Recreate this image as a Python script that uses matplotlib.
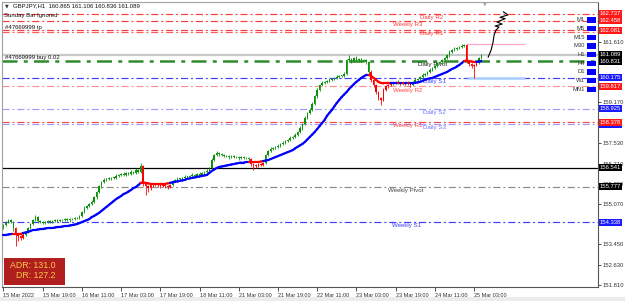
"""
GBPJPY H1 chart with pivot levels, coloured MA and order lines (MT4 style).
Output: out.png
"""
import matplotlib

matplotlib.use("Agg")
import matplotlib.pyplot as plt
import numpy as np
from matplotlib.collections import LineCollection
from matplotlib.patches import Rectangle
from matplotlib.transforms import blended_transform_factory

plt.rcParams["font.family"] = ["Liberation Sans", "DejaVu Sans"]

# --- data ---

first_open = 154.15
closes = [
    154.23, 154.35, 154.43, 154.35, 154.11, 153.83, 153.79, 153.71, 153.83, 153.95,
    154.11, 154.27, 154.43, 154.55, 154.39, 154.35, 154.31, 154.35, 154.39, 154.35,
    154.39, 154.43, 154.39, 154.43, 154.43, 154.47, 154.43, 154.47, 154.47, 154.51,
    154.51, 154.60, 154.76, 154.92, 155.00, 155.08, 155.16, 155.36, 155.56, 155.80,
    155.97, 156.05, 156.09, 156.09, 156.13, 156.13, 156.21, 156.25, 156.29, 156.25,
    156.33, 156.29, 156.37, 156.33, 156.45, 156.37, 156.61, 155.89, 155.80, 155.72,
    155.84, 155.84, 155.84, 155.86, 155.80, 155.84, 155.80, 155.76, 155.84, 156.01,
    156.05, 156.09, 156.09, 156.13, 156.17, 156.17, 156.21, 156.25, 156.21, 156.29,
    156.25, 156.33, 156.37, 156.41, 156.53, 156.85, 157.05, 157.13, 157.09, 157.05,
    157.01, 157.01, 156.97, 157.01, 156.97, 156.97, 156.93, 156.97, 156.93, 156.93,
    156.89, 156.69, 156.65, 156.61, 156.69, 156.65, 156.73, 157.05, 157.21, 157.30,
    157.34, 157.38, 157.42, 157.50, 157.54, 157.62, 157.66, 157.74, 157.78, 157.86,
    157.98, 158.14, 158.30, 158.54, 158.75, 158.87, 159.11, 159.43, 159.67, 159.87,
    159.96, 160.00, 160.04, 160.08, 160.12, 160.16, 160.20, 160.24, 160.24, 160.32,
    160.88, 160.92, 160.84, 160.96, 160.88, 160.92, 160.84, 160.88, 160.80, 160.40,
    160.08, 159.87, 159.59, 159.35, 159.27, 159.67, 159.83, 159.87, 159.92, 159.96,
    160.00, 159.96, 159.92, 159.96, 159.92, 159.96, 159.87, 160.00, 160.08, 160.12,
    160.20, 160.28, 160.32, 160.40, 160.48, 160.56, 160.64, 160.76, 160.80, 160.88,
    160.96, 161.08, 161.20, 161.29, 161.33, 161.37, 161.41, 161.45, 161.49, 160.84,
    160.72, 160.64, 160.68, 160.76, 160.96, 161.089,
]
upper_wick = [
    0.05, 0.06, 0.04, 0.05, 0.03, 0.04, 0.05, 0.04, 0.06, 0.04,
    0.03, 0.05, 0.04, 0.08, 0.05, 0.04, 0.06, 0.04, 0.05, 0.03,
    0.05, 0.04, 0.06, 0.04, 0.05, 0.04, 0.05, 0.03, 0.05, 0.04,
    0.06, 0.04, 0.05, 0.06, 0.04, 0.05, 0.07, 0.05, 0.06, 0.04,
    0.05, 0.06, 0.04, 0.07, 0.05, 0.04, 0.06, 0.05, 0.04, 0.06,
    0.05, 0.04, 0.06, 0.05, 0.07, 0.05, 0.12, 0.04, 0.05, 0.04,
    0.05, 0.04, 0.06, 0.04, 0.05, 0.06, 0.04, 0.05, 0.04, 0.05,
    0.04, 0.06, 0.05, 0.04, 0.06, 0.05, 0.04, 0.07, 0.05, 0.04,
    0.06, 0.05, 0.04, 0.06, 0.05, 0.07, 0.06, 0.08, 0.05, 0.04,
    0.05, 0.06, 0.04, 0.05, 0.04, 0.06, 0.05, 0.04, 0.05, 0.04,
    0.05, 0.04, 0.06, 0.05, 0.04, 0.05, 0.04, 0.06, 0.05, 0.06,
    0.04, 0.05, 0.06, 0.04, 0.07, 0.05, 0.04, 0.06, 0.05, 0.06,
    0.05, 0.07, 0.06, 0.09, 0.05, 0.06, 0.08, 0.06, 0.07, 0.05,
    0.06, 0.05, 0.04, 0.06, 0.05, 0.04, 0.06, 0.05, 0.04, 0.06,
    0.05, 0.16, 0.06, 0.05, 0.07, 0.05, 0.06, 0.04, 0.06, 0.05,
    0.06, 0.05, 0.04, 0.06, 0.05, 0.07, 0.05, 0.04, 0.06, 0.05,
    0.04, 0.06, 0.05, 0.04, 0.05, 0.06, 0.04, 0.05, 0.06, 0.04,
    0.05, 0.06, 0.04, 0.05, 0.07, 0.05, 0.06, 0.04, 0.05, 0.06,
    0.05, 0.06, 0.07, 0.05, 0.06, 0.04, 0.05, 0.06, 0.05, 0.04,
    0.05, 0.06, 0.04, 0.05, 0.06, 0.04,
]
lower_wick = [
    0.06, 0.04, 0.05, 0.04, 0.10, 0.45, 0.20, 0.08, 0.06, 0.05,
    0.04, 0.05, 0.03, 0.05, 0.06, 0.04, 0.05, 0.04, 0.03, 0.05,
    0.04, 0.05, 0.03, 0.05, 0.04, 0.05, 0.04, 0.06, 0.04, 0.05,
    0.04, 0.05, 0.06, 0.04, 0.05, 0.06, 0.04, 0.05, 0.06, 0.05,
    0.06, 0.04, 0.05, 0.04, 0.06, 0.05, 0.04, 0.05, 0.06, 0.04,
    0.05, 0.06, 0.04, 0.05, 0.04, 0.06, 0.05, 0.10, 0.36, 0.15,
    0.06, 0.08, 0.05, 0.06, 0.07, 0.05, 0.06, 0.08, 0.05, 0.04,
    0.05, 0.04, 0.06, 0.05, 0.04, 0.05, 0.06, 0.04, 0.05, 0.04,
    0.05, 0.04, 0.06, 0.05, 0.04, 0.06, 0.05, 0.04, 0.06, 0.05,
    0.04, 0.05, 0.06, 0.04, 0.05, 0.04, 0.06, 0.05, 0.04, 0.05,
    0.06, 0.08, 0.20, 0.07, 0.06, 0.05, 0.06, 0.04, 0.05, 0.04,
    0.05, 0.06, 0.04, 0.05, 0.04, 0.06, 0.05, 0.04, 0.05, 0.06,
    0.04, 0.05, 0.06, 0.05, 0.04, 0.06, 0.05, 0.04, 0.06, 0.05,
    0.04, 0.05, 0.06, 0.04, 0.05, 0.06, 0.04, 0.05, 0.06, 0.04,
    0.05, 0.04, 0.06, 0.05, 0.04, 0.06, 0.05, 0.04, 0.06, 0.07,
    0.08, 0.06, 0.09, 0.10, 0.20, 0.06, 0.05, 0.07, 0.05, 0.06,
    0.05, 0.06, 0.04, 0.05, 0.06, 0.05, 0.07, 0.04, 0.05, 0.06,
    0.04, 0.05, 0.06, 0.04, 0.05, 0.06, 0.04, 0.05, 0.04, 0.06,
    0.05, 0.04, 0.06, 0.05, 0.04, 0.06, 0.05, 0.04, 0.05, 0.08,
    0.10, 0.07, 0.48, 0.06, 0.05, 0.04,
]
ma = [
    153.83, 153.83, 153.85, 153.87, 153.87, 153.87, 153.87, 153.87, 153.91, 153.93,
    153.95, 153.99, 154.03, 154.03, 154.05, 154.07, 154.07, 154.09, 154.11, 154.11,
    154.11, 154.13, 154.15, 154.15, 154.17, 154.19, 154.19, 154.21, 154.23, 154.25,
    154.27, 154.31, 154.35, 154.39, 154.43, 154.47, 154.55, 154.60, 154.66, 154.72,
    154.80, 154.88, 154.96, 155.04, 155.12, 155.20, 155.28, 155.34, 155.40, 155.48,
    155.52, 155.58, 155.64, 155.72, 155.76, 155.84, 155.93, 155.95, 155.93, 155.91,
    155.89, 155.89, 155.89, 155.89, 155.89, 155.89, 155.89, 155.91, 155.93, 155.95,
    155.97, 155.99, 156.01, 156.03, 156.05, 156.09, 156.11, 156.13, 156.15, 156.17,
    156.19, 156.21, 156.23, 156.25, 156.33, 156.41, 156.47, 156.53, 156.57, 156.59,
    156.61, 156.63, 156.65, 156.67, 156.69, 156.71, 156.73, 156.75, 156.75, 156.77,
    156.77, 156.77, 156.77, 156.77, 156.77, 156.79, 156.81, 156.83, 156.85, 156.89,
    156.93, 156.97, 157.01, 157.05, 157.09, 157.13, 157.17, 157.21, 157.25, 157.32,
    157.38, 157.44, 157.50, 157.58, 157.68, 157.78, 157.88, 157.98, 158.10, 158.22,
    158.34, 158.46, 158.63, 158.75, 158.87, 159.01, 159.15, 159.27, 159.39, 159.49,
    159.59, 159.71, 159.81, 159.91, 160.00, 160.08, 160.16, 160.22, 160.28, 160.28,
    160.24, 160.16, 160.08, 160.00, 159.96, 159.94, 159.94, 159.94, 159.94, 159.94,
    159.94, 159.94, 159.94, 159.94, 159.94, 159.94, 159.94, 159.94, 159.96, 159.98,
    160.00, 160.04, 160.08, 160.12, 160.14, 160.16, 160.20, 160.24, 160.28, 160.32,
    160.36, 160.40, 160.46, 160.52, 160.56, 160.62, 160.68, 160.76, 160.84, 160.86,
    160.84, 160.82, 160.80, 160.80, 160.82, 160.84,
]

time_tick_bars = [0, 16, 32, 48, 64, 80, 96, 112, 128, 144, 160, 176, 192]
time_labels = [
    "15 Mar 2022", "15 Mar 19:00", "16 Mar 11:00", "17 Mar 03:00", "17 Mar 19:00",
    "18 Mar 11:00", "21 Mar 03:00", "21 Mar 19:00", "22 Mar 11:00", "23 Mar 03:00",
    "23 Mar 19:00", "24 Mar 11:00", "25 Mar 03:00",
]
# axis labels not covered by the price boxes
price_ticks = [151.81, 152.63, 153.45, 155.07, 155.89, 156.71,
               157.53, 159.17, 161.61]

# pivot / order levels (dash-dot)
level_prices = [162.737, 162.458, 162.081, 161.99, 160.831, 160.175,
                159.817, 158.925, 158.378, 158.30, 155.777, 154.338]
level_colors = ["#ff3a3a", "#ff3a3a", "#ff3a3a", "#ff5a5a", "#2e8b2e", "#3c3cff",
                "#ff8f8f", "#9c9cff", "#ff4444", "#9c9cff", "#8a8a8a", "#3c3cff"]
bid_price = 161.089
hline_price = 156.541

level_names = ["Daily R2", "Weekly R3", "Daily R1", "Daily Pivot", "Daily S1",
               "Weekly R2", "Daily S2", "Weekly R1", "Daily S3", "Weekly Pivot",
               "Weekly S1"]
level_name_prices = [162.737, 162.458, 162.081, 160.831, 160.175, 159.817,
                     158.925, 158.378, 158.30, 155.777, 154.338]
level_name_colors = ["#ff3a3a", "#ff3a3a", "#ff3a3a", "#222222", "#3c3cff",
                     "#ff4444", "#6e6eff", "#ff4444", "#6e6eff", "#444444", "#3c3cff"]
level_name_bar = [170, 159, 170, 169, 171, 159, 171, 159, 171, 157, 158.5]

box_prices = [162.737, 162.458, 162.081, 161.089, 160.831, 160.175, 159.817,
              158.925, 158.30, 158.378, 156.541, 155.777, 154.338]
box_colors = ["#ff1a1a", "#ff1a1a", "#ff1a1a", "#000000", "#000000", "#1a1aff",
              "#ff1a1a", "#1a1aff", "#1a1aff", "#ff1a1a", "#000000", "#000000", "#1a1aff"]

timeframes = ["M1", "M5", "M15", "M30", "H1", "H4", "D1", "W1", "MN1"]

day_high, day_low = 161.53, 160.16
day_start_bar, day_end_bar = 189.2, 213

# hand-drawn arrow scribble
arrow_x = [197.8, 199.0, 199.8, 200.2, 201.0, 202.2, 200.6, 203.5, 201.4, 204.7, 202.6, 205.9, 204.0]
arrow_y = [161.00, 161.29, 161.61, 161.89, 162.09, 162.21, 162.25, 162.33, 162.41, 162.55, 162.60, 162.70, 162.82]

# --- plot ---

fig = plt.figure(figsize=(6.25, 3.01), dpi=100)
fig.patch.set_facecolor("white")
ax = fig.add_axes([2 / 625, 14 / 301, 596 / 625, 285 / 301])
ax.set_xlim(-0.6, 242.6)
ax.set_ylim(151.734, 163.219)

c = np.array(closes)
o = np.r_[first_open, c[:-1]]
m = np.array(ma)
idx = np.arange(len(c))
hi = np.maximum(o, c) + np.array(upper_wick)
lo = np.minimum(o, c) - np.array(lower_wick)
bear = c < m
cols = np.where(bear, "#ff0000", "#0a930a")

dash_dot = (0, (6, 2.5, 1.6, 2.5))
for p, col in zip(level_prices, level_colors):
    lw = 1.8 if col == "#2e8b2e" else 0.85
    ax.axhline(p, color=col, lw=lw, ls=dash_dot, zorder=2)
ax.axhline(bid_price, color="#c8c8c8", lw=1.6, zorder=1.5)
ax.axhline(hline_price, color="black", lw=0.9, zorder=2)
ax.hlines(day_high, day_start_bar, day_end_bar, color="#ffa6cc", lw=0.9, zorder=2)
ax.hlines(day_low, day_start_bar, day_end_bar, color="#a9cdff", lw=1.8, zorder=2)

for name, p, col, xb in zip(level_names, level_name_prices, level_name_colors, level_name_bar):
    ax.annotate(name, (xb, p), xytext=(0, -0.8), textcoords="offset points",
                va="top", ha="left", fontsize=4.4, color=col, zorder=2.2)

# candles
ax.vlines(idx, lo, hi, colors=cols, lw=0.6, zorder=4)
body = np.maximum(np.abs(c - o), 0.02)
ax.bar(idx, body, bottom=np.minimum(o, c), width=0.62, color=cols, lw=0, zorder=4)

# coloured moving average
pts = np.column_stack([idx, m])
segs = np.stack([pts[:-1], pts[1:]], axis=1)
seg_cols = np.where(bear[1:], "#ff0000", "#0000ff")
ax.add_collection(LineCollection(segs, colors=seg_cols, lw=1.6, zorder=5,
                                 capstyle="round"))

ax.plot(arrow_x, arrow_y, color="black", lw=0.8, zorder=6)

# axes styling
for side in ("left", "top"):
    ax.spines[side].set_color("#a0a0a0")
for side in ("right", "bottom"):
    ax.spines[side].set_color("#555555")
for s in ax.spines.values():
    s.set_linewidth(0.8)

ax.yaxis.tick_right()
ax.set_yticks(price_ticks)
ax.set_yticklabels([f"{p:.3f}" for p in price_ticks])
ax.tick_params(axis="y", length=2, width=0.6, pad=1, labelsize=4.2,
               colors="#333333")
ax.set_xticks(time_tick_bars)
ax.set_xticklabels(time_labels, ha="left")
ax.tick_params(axis="x", length=3, width=0.6, pad=1, labelsize=4.0,
               colors="#333333")

# price boxes on right axis
tr = blended_transform_factory(ax.transAxes, ax.transData)
for p, col in zip(box_prices, box_colors):
    ax.text(1.003, p, f"{p:.3f}", transform=tr, va="center", ha="left",
            fontsize=4.2, color="white", clip_on=False, zorder=10,
            bbox=dict(boxstyle="square,pad=0.18", fc=col, ec="none"))

# timeframe buttons
for k, tf in enumerate(timeframes):
    yf = 0.937 - k * 0.0304
    ax.text(0.978, yf, tf, transform=ax.transAxes, ha="right", va="center",
            fontsize=4.2, color="#333333", zorder=8)
    ax.add_patch(Rectangle((0.9815, yf - 0.009), 0.015, 0.018,
                           transform=ax.transAxes, fc="#0000ff", ec="none",
                           zorder=8))

# header / order texts
fig.text(5 / 625, 1 - 6 / 301, "\u25bc", fontsize=3.5, color="#333333",
         va="center", ha="left", family="DejaVu Sans")
fig.text(13 / 625, 1 - 6 / 301, "GBPJPY,H1  160.865 161.106 160.836 161.089",
         fontsize=4.3, color="#111111", va="center", ha="left")
fig.text(4 / 625, 1 - 15 / 301, "Sunday Bar Ignored", fontsize=4.3,
         color="#111111", va="center", ha="left")
fig.text(5 / 625, 1 - 27 / 301, "#47669999 tp", fontsize=4.3,
         color="#111111", va="center", ha="left")
fig.text(5 / 625, 1 - 57 / 301, "#47669999 buy 0.02", fontsize=4.3,
         color="#111111", va="center", ha="left")
fig.text(485 / 625, 1 - 3.5 / 301, "\u25bc", fontsize=3.5, color="#a8a8a8",
         va="center", ha="center", family="DejaVu Sans")

# ADR panel
fig.patches.append(Rectangle((4 / 625, 1 - 285 / 301), 61 / 625, 27 / 301,
                             transform=fig.transFigure, fc="#b01e1e",
                             ec="none", zorder=9))
fig.text(56 / 625, 1 - 265 / 301, "ADR: 131.0", fontsize=6.3, color="#f7c948",
         va="center", ha="right", zorder=10)
fig.text(56 / 625, 1 - 276 / 301, "DR: 127.2", fontsize=6.3, color="#f7c948",
         va="center", ha="right", zorder=10)

# bottom window strip
fig.patches.append(Rectangle((0, 0), 1, 4 / 301, transform=fig.transFigure,
                             fc="#ececec", ec="none", zorder=0))

fig.savefig("out.png", dpi=100)
plt.close(fig)
